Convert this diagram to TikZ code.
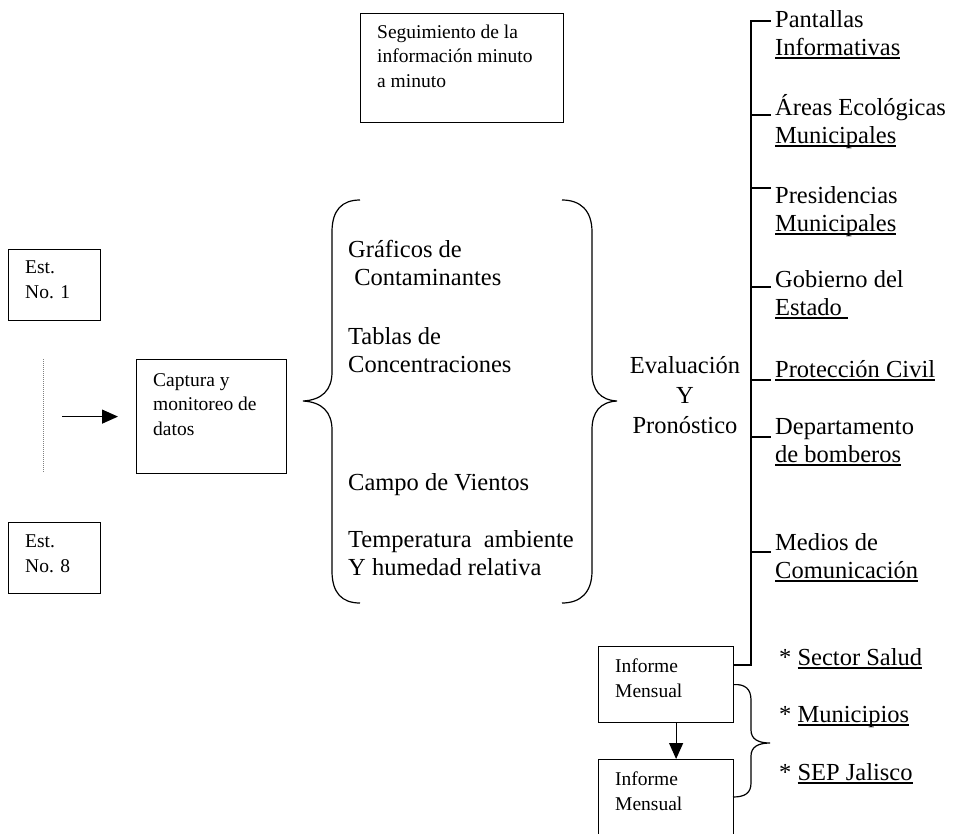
\documentclass[tikz,border=0pt]{standalone}
\usepackage{fontspec}
\setmainfont{Liberation Serif}
\usetikzlibrary{arrows.meta}

% underline at a fixed depth below the baseline
\newsavebox\undlbox
\newcommand\undl[1]{\sbox\undlbox{#1}\rlap{\rule[-3.5pt]{\wd\undlbox}{1.1pt}}\usebox\undlbox}

\begin{document}
\begin{tikzpicture}[x=1pt, y=-1pt,
  box/.style={draw, line width=1.2pt, anchor=north west, inner sep=0pt},
  small/.style={anchor=base west, align=left, inner sep=0pt, font=\fontsize{19.5}{24.5}\selectfont},
  big/.style={anchor=base west, align=left, inner sep=0pt, font=\fontsize{24.5}{28}\selectfont},
  line/.style={line width=1.2pt},
  arr/.style={line width=1.2pt, -{Triangle[length=16pt, width=14pt]}},
]
  \useasboundingbox (0,0) rectangle (953,833);

  % boxes
  \node[box, minimum width=203pt, minimum height=109pt] (seg) at (360,13) {};
  \node[box, minimum width=92pt, minimum height=71pt] (est1) at (8,249) {};
  \node[box, minimum width=92pt, minimum height=71pt] (est8) at (8,522) {};
  \node[box, minimum width=150pt, minimum height=114pt] (cap) at (136,359) {};
  \node[box, minimum width=135pt, minimum height=76pt] (inf1) at (598,646) {};
  \node[box, minimum width=135pt, minimum height=120pt] (inf2) at (598,759) {};

  % (multi-line nodes sit on the baseline of their last line)
  \node[small] (segtxt) at (377,87) {Seguimiento de la\\información minuto\\a minuto};
  \node[small] (est1txt) at (25,298) {Est.\\No. 1};
  \node[small] (est8txt) at (25,572) {Est.\\No. 8};
  \node[small] (captxt) at (153,435) {Captura y\\monitoreo de\\datos};
  \node[small] (inf1txt) at (615,697) {Informe\\Mensual};
  \node[small] (inf2txt) at (615,810) {Informe\\Mensual};

  % stations in between
  \draw[gray, line width=0.8pt, dash pattern=on 1pt off 1pt] (43,359) -- (43,472);
  \draw[arr] ([xshift=-74pt]cap.west) -- ([xshift=-18pt]cap.west);

  % products
  \draw[line] (360,200) .. controls (342,200) and (332,210) .. (332,232) -- (332,372)
    .. controls (332,390) and (322,400) .. (303,401) .. controls (322,402) and (332,412) .. (332,430)
    -- (332,571) .. controls (332,593) and (342,603) .. (360,603);
  \draw[line] (562,200) .. controls (580,200) and (592,210) .. (592,232) -- (592,372)
    .. controls (592,390) and (600,400) .. (617,401) .. controls (600,402) and (592,412) .. (592,430)
    -- (592,571) .. controls (592,593) and (580,603) .. (562,603);

  \node[big] (graf) at (348,285) {Gráficos de\\\hspace*{0.25em}Contaminantes};
  \node[big] (tab) at (348,372) {Tablas de\\Concentraciones};
  \node[big] (vien) at (348,490) {Campo de Vientos};
  \node[big] (temp) at (348,575) {Temperatura\ \ ambiente\\Y humedad relativa};

  \node[big, anchor=base, align=center, font=\fontsize{24.5}{30}\selectfont] (eval) at (685,433) {Evaluación\\Y\\Pronóstico};

  % distribution
  \coordinate (bus) at (751,665);
  \draw[line] (inf1.north east |- bus) -- (bus) -- (751,21) -- (771,21);
  \foreach \y in {115,188,287,380,437,552}
    \draw[line] (751,\y) -- (771,\y);

  \node[big] (pant) at (775,55) {Pantallas\\\undl{Informativas}};
  \node[big] (areas) at (775,143) {Áreas Ecológicas\\\undl{Municipales}};
  \node[big] (pres) at (775,231) {Presidencias\\\undl{Municipales}};
  \node[big] (gob) at (775,315) {Gobierno del\\\undl{Estado\ }};
  \node[big] (prot) at (775,377) {\undl{Protección Civil}};
  \node[big] (bomb) at (775,462) {Departamento\\\undl{de bomberos}};
  \node[big] (med) at (775,578) {Medios de\\\undl{Comunicación}};

  % monthly report
  \draw[arr] ([xshift=10pt]inf1.south) -- ([xshift=10pt]inf2.north);
  \draw[line] (inf1.east) .. controls (745,684) and (751,689) .. (751,700) -- (751,730)
    .. controls (751,739) and (758,743) .. (770,743) .. controls (758,743) and (751,747) .. (751,756)
    -- (751,783) .. controls (751,793) and (745,797) .. (733,797);

  \node[big] (salud) at (779,665) {* \undl{Sector Salud}};
  \node[big] (mun) at (779,722) {* \undl{Municipios}};
  \node[big] (sep) at (779,780) {* \undl{SEP Jalisco}};
\end{tikzpicture}
\end{document}
